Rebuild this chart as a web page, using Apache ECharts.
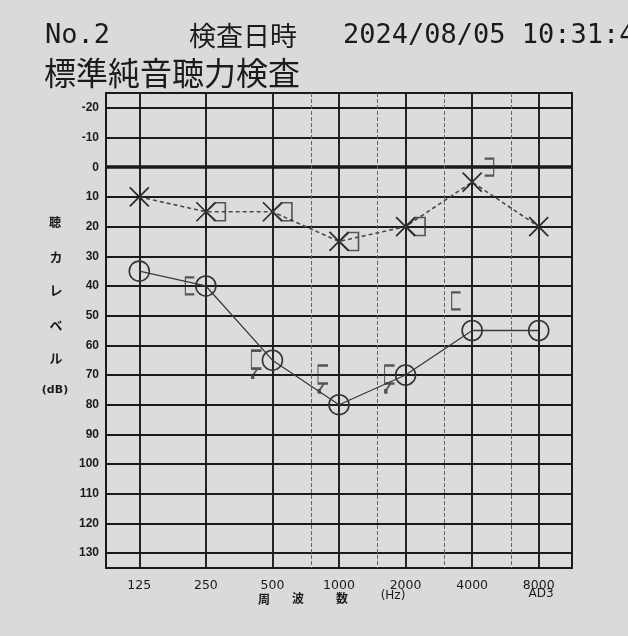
<!DOCTYPE html>
<html>
<head>
<meta charset="utf-8">
<script src="https://cdn.jsdelivr.net/npm/echarts@6/dist/echarts.min.js"></script>
<style>
html,body{margin:0;padding:0;background:#d9dbda;}
#chart{width:628px;height:636px;}
</style>
</head>
<body>
<div id="chart"></div>
<script>
// ---- data ----
const freqLabels = ['125', '250', '500', '1000', '2000', '4000', '8000'];
const freqs = [125, 250, 500, 1000, 2000, 4000, 8000];
const halfOctaveFreqs = [750, 1500, 3000, 6000];
const dbTicks = [-20, -10, 0, 10, 20, 30, 40, 50, 60, 70, 80, 90, 100, 110, 120, 130];
const rightAir = [35, 40, 65, 80, 70, 55, 55];
const leftAir = [10, 15, 15, 25, 20, 5, 20];
const leftBoneFreqs = [250, 500, 1000, 2000];
const leftBone = [15, 15, 25, 20];
const leftBracketFreqs = [4000];
const leftBracket = [0];
const rightBoneFreqs = [250, 500, 1000, 2000, 4000];
const rightBone = [40, 65, 70, 70, 45];
const rightBoneNoResp = [false, true, true, true, false];

const xPos = f => Math.log2(f / 125);
const INK = '#1b1b1b';

const symX = 'path://M0,0L20,20M20,0L0,20';
const symPent = 'path://M0,9L9,0L18,0L18,18L9,18Z';
const symRBr = 'path://M0,0L7,0L7,16L0,16';
const symLBr = 'path://M8,0L0,0L0,16L8,16';
const symLBrArrow = 'path://M8,0L0,0L0,16L8,16M5,16L1,22M0,22L2,22L2,24L0,24Z';

const gridLines = [];
dbTicks.forEach(v => gridLines.push({
  yAxis: v,
  lineStyle: { color: INK, width: v === 0 ? 3.5 : 1.9, type: 'solid' }
}));
freqs.forEach(f => gridLines.push({
  xAxis: xPos(f),
  lineStyle: { color: INK, width: 1.9, type: 'solid' }
}));
halfOctaveFreqs.forEach(f => gridLines.push({
  xAxis: xPos(f),
  lineStyle: { color: '#666', width: 1, type: [4, 2] }
}));

const chart = echarts.init(document.getElementById('chart'), null, { renderer: 'canvas' });

const cjk = '"Noto Sans CJK JP"';
const txt = (text, x, y, font) => ({
  type: 'text', x: x, y: y,
  style: { text: text, font: font, fill: INK, textAlign: 'center', textVerticalAlign: 'middle' }
});
const ltxt = (text, x, y, font) => ({
  type: 'text', x: x, y: y,
  style: { text: text, font: font, fill: INK, textAlign: 'left', textVerticalAlign: 'middle' }
});

chart.setOption({
  backgroundColor: '#d9dbda',
  animation: false,
  grid: {
    left: 106, right: 56, top: 93, bottom: 68,
    show: true, borderColor: INK, borderWidth: 2, backgroundColor: '#dbdddc'
  },
  xAxis: {
    type: 'value', min: -0.5, max: 6.5, interval: 0.5,
    axisLine: { show: false }, axisTick: { show: false }, splitLine: { show: false },
    axisLabel: {
      margin: 11, color: INK, fontSize: 12.5, fontFamily: 'DejaVu Sans',
      formatter: v => (Number.isInteger(v) && v >= 0 && v < freqLabels.length) ? freqLabels[v] : ''
    }
  },
  yAxis: {
    type: 'value', inverse: true, min: -25, max: 135, interval: 5,
    axisLine: { show: false }, axisTick: { show: false }, splitLine: { show: false },
    axisLabel: {
      margin: 7, color: INK, fontSize: 12, fontWeight: 'bold', fontFamily: 'Liberation Sans',
      formatter: v => (v % 10 === 0 && v >= -20 && v <= 130) ? String(v) : ''
    }
  },
  graphic: [
    ltxt('No.2', 45, 36, '27px "DejaVu Sans Mono"'),
    ltxt('検査日時', 189, 36, '27px ' + cjk),
    ltxt('2024/08/05 10:31:4', 343, 36, '27px "DejaVu Sans Mono"'),
    ltxt('標準純音聴力検査', 44, 73, '32px ' + cjk),
    txt('聴', 55, 222, 'bold 12px ' + cjk),
    txt('カ', 56, 257, 'bold 13px ' + cjk),
    txt('レ', 56, 290, 'bold 13px ' + cjk),
    txt('ベ', 56, 325, 'bold 13px ' + cjk),
    txt('ル', 56, 358, 'bold 13px ' + cjk),
    txt('(dB)', 55, 390, 'bold 11px "DejaVu Sans"'),
    txt('周', 264, 599, 'bold 12px ' + cjk),
    txt('波', 298, 598, 'bold 12px ' + cjk),
    txt('数', 342, 598, 'bold 12px ' + cjk),
    txt('(Hz)', 393, 596, '12px "DejaVu Sans"'),
    txt('AD3', 541, 594, '12px "DejaVu Sans"')
  ],
  series: [
    {
      type: 'line', data: [], silent: true, z: 1,
      markLine: { silent: true, symbol: ['none', 'none'], label: { show: false }, animation: false, data: gridLines }
    },
    {
      name: 'right-air', type: 'line', z: 5,
      data: freqs.map((f, i) => [xPos(f), rightAir[i]]),
      symbol: 'circle', symbolSize: 20,
      lineStyle: { color: '#3a3a3a', width: 1.3 },
      itemStyle: { color: 'rgba(0,0,0,0)', borderColor: '#333', borderWidth: 1.6 }
    },
    {
      name: 'left-air', type: 'line', z: 5,
      data: freqs.map((f, i) => [xPos(f), leftAir[i]]),
      symbol: symX, symbolSize: 19,
      lineStyle: { color: '#4a4a4a', width: 1.6, type: [4, 3] },
      itemStyle: { color: 'none', borderColor: '#2a2a2a', borderWidth: 1.7 }
    },
    {
      name: 'left-bone', type: 'scatter', z: 6,
      data: leftBoneFreqs.map((f, i) => [xPos(f), leftBone[i]]),
      symbol: symPent, symbolSize: [19, 18], symbolOffset: [10, 0],
      itemStyle: { color: 'none', borderColor: '#333', borderWidth: 1.6 }
    },
    {
      name: 'left-bone-bracket', type: 'scatter', z: 6,
      data: leftBracketFreqs.map((f, i) => [xPos(f), leftBracket[i]]),
      symbol: symRBr, symbolSize: [9, 17], symbolOffset: [17, 0],
      itemStyle: { color: 'none', borderColor: '#333', borderWidth: 1.6 }
    },
    {
      name: 'right-bone', type: 'scatter', z: 6,
      data: rightBoneFreqs.map((f, i) => ({
        value: [xPos(f), rightBone[i]],
        symbol: rightBoneNoResp[i] ? symLBrArrow : symLBr,
        symbolSize: rightBoneNoResp[i] ? [10, 27] : [9, 17],
        symbolOffset: rightBoneNoResp[i] ? [-16, 4] : [-16, 0]
      })),
      itemStyle: { color: 'none', borderColor: '#333', borderWidth: 1.6 }
    }
  ]
});
</script>
</body>
</html>
